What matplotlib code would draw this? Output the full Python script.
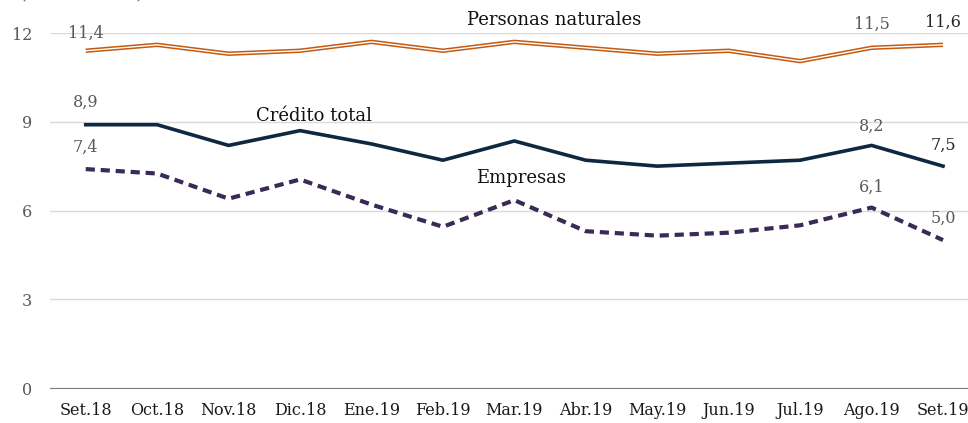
import matplotlib.pyplot as plt

meses = ['Set.18', 'Oct.18', 'Nov.18', 'Dic.18', 'Ene.19', 'Feb.19', 'Mar.19',
         'Abr.19', 'May.19', 'Jun.19', 'Jul.19', 'Ago.19', 'Set.19']
personas = [11.4, 11.6, 11.3, 11.4, 11.7, 11.4, 11.7, 11.5, 11.3, 11.4, 11.05, 11.5, 11.6]
credito = [8.9, 8.9, 8.2, 8.7, 8.25, 7.7, 8.35, 7.7, 7.5, 7.6, 7.7, 8.2, 7.5]
empresas = [7.4, 7.25, 6.4, 7.05, 6.2, 5.45, 6.35, 5.3, 5.15, 5.25, 5.5, 6.1, 5.0]
yticks = [0, 3, 6, 9, 12]

plt.rcParams['font.family'] = 'DejaVu Serif'

fig = plt.figure(figsize=[9.68, 4.23], dpi=100)
ax = fig.add_axes([50/968, 35/423, 918/968, 355/423])
x = range(len(meses))

# personas naturales: double line (orange outline, white core)
ax.plot(x, personas, color='#C55A11', lw=3.2, solid_capstyle='butt', zorder=3)
ax.plot(x, personas, color='white', lw=1.0, zorder=4)
ax.plot(x, credito, color='#0E2841', lw=2.6, zorder=3)
ax.plot(x, empresas, color='#3B2A55', lw=3.0, ls=(0, (2.2, 1.4)), zorder=3)

ax.set_xlim(-0.5, 12.35)
ax.set_ylim(0, 12)
ax.set_yticks(yticks)
ax.set_yticklabels([str(v) for v in yticks])
ax.set_xticks(list(x))
ax.set_xticklabels(meses)
ax.tick_params(axis='y', length=0, pad=13, labelsize=11.5, labelcolor='#595959')
ax.tick_params(axis='x', length=0, pad=10, labelsize=11.5, labelcolor='#1a1a1a')
ax.grid(axis='y', color='#d9d9d9', lw=1)
ax.set_axisbelow(True)
for s in ['top', 'right', 'left']:
    ax.spines[s].set_visible(False)
ax.spines['bottom'].set_color('#7f7f7f')

def fmt(v):
    return ('%.1f' % v).replace('.', ',')

# data labels
for i, off in [(0, 0.6), (11, 0.8), (12, 0.75)]:
    c = '#262626' if i == 12 else '#595959'
    ax.text(i, personas[i] + off, fmt(personas[i]), ha='center', va='center', fontsize=11.5, color=c)
for i, off in [(0, 0.75), (11, 0.65), (12, 0.7)]:
    c = '#262626' if i == 12 else '#595959'
    ax.text(i, credito[i] + off, fmt(credito[i]), ha='center', va='center', fontsize=11.5, color=c)
for i, off in [(0, 0.75), (11, 0.7), (12, 0.75)]:
    ax.text(i, empresas[i] + off, fmt(empresas[i]), ha='center', va='center', fontsize=11.5, color='#595959')

# series names
ax.text(6.55, 12.45, 'Personas naturales', ha='center', va='center', fontsize=13, color='#111111')
ax.text(3.2, 9.2, 'Crédito total', ha='center', va='center', fontsize=13, color='#111111')
ax.text(6.1, 7.1, 'Empresas', ha='center', va='center', fontsize=13, color='#111111')

# unit note, cropped at top of image (only the bottom of it shows, as in the source)
fig.text(20/968, 1.0 + 2/423, '(Var. % anual)', ha='left', va='baseline', fontsize=12.5, color='#595959')

fig.savefig('out.png', dpi=100)
